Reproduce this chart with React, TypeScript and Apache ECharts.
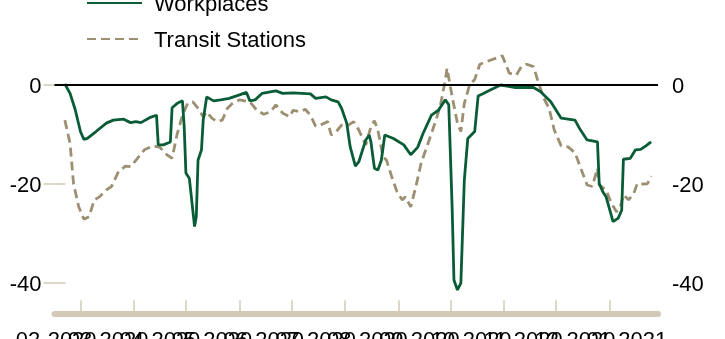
import { useEffect, useRef } from "react";
import * as echarts from "echarts";

// x values are days since 2020-02-15
const xLabels = ["02-2020", "03-2020", "04-2020", "05-2020", "06-2020", "07-2020", "08-2020", "09-2020", "10-2020", "11-2020", "12-2020", "01-2021"];
const monthStarts = ["2020-03-01", "2020-04-01", "2020-05-01", "2020-06-01", "2020-07-01", "2020-08-01", "2020-09-01", "2020-10-01", "2020-11-01", "2020-12-01", "2021-01-01"];
const yTicks = [-40, -20, 0];

const workDays = [6, 9, 12, 15, 17, 19, 24, 30, 34, 40, 44, 47, 50, 55, 59, 60, 63, 67, 68, 71, 74, 75, 76, 78, 81, 82, 83, 85, 86, 88, 90, 92, 96, 101, 107, 111, 113, 116, 120, 128, 132, 138, 148, 151, 157, 160, 164, 166, 169, 171, 174, 176, 180, 182, 183, 185, 187, 189, 191, 196, 202, 206, 210, 213, 218, 222, 226, 228, 230, 231, 233, 235, 237, 239, 243, 245, 248, 252, 258, 266, 277, 281, 287, 293, 301, 304, 308, 314, 315, 317, 319, 323, 326, 328, 329, 333, 336, 339, 342, 345];
const workValues = [0.2, -1.7, -5, -9.4, -11, -10.8, -9.4, -7.7, -7.1, -6.9, -7.6, -7.4, -7.6, -6.6, -6.1, -12.1, -12.1, -11.5, -4.6, -3.7, -3.2, -8.4, -17.8, -18.9, -28.6, -26.6, -15.2, -13.1, -7.1, -2.4, -2.8, -3.2, -3, -2.7, -2, -1.5, -3.2, -3, -1.7, -1.2, -1.7, -1.6, -1.8, -2.7, -2.4, -3, -3.4, -4.7, -7.7, -12.5, -16.4, -15.5, -11.1, -10.1, -11.5, -16.8, -17.2, -15.2, -10.1, -10.8, -12.1, -14.1, -12.6, -9.9, -6.1, -5.1, -3, -4, -25.3, -39.4, -41.4, -40, -19.2, -10.8, -9.4, -2.2, -1.7, -1, 0, -0.5, -0.5, -1.3, -3.4, -6.7, -7.1, -9, -11.1, -11.5, -19.9, -21.5, -22.6, -27.6, -26.9, -25.3, -15, -14.8, -13.1, -13, -12.3, -11.5];

const transitDays = [6, 9, 11, 14, 17, 20, 23, 26, 30, 33, 37, 41, 44, 48, 52, 57, 61, 65, 68, 71, 74, 77, 80, 83, 86, 88, 91, 94, 97, 100, 103, 107, 113, 117, 121, 125, 128, 132, 136, 138, 142, 145, 148, 151, 155, 158, 160, 163, 166, 170, 173, 176, 180, 183, 185, 187, 190, 192, 195, 198, 201, 203, 206, 209, 212, 216, 220, 223, 226, 227, 230, 233, 235, 237, 240, 243, 246, 252, 259, 263, 267, 270, 273, 277, 280, 283, 286, 289, 293, 297, 301, 304, 308, 311, 314, 315, 319, 322, 325, 327, 329, 332, 335, 337, 341, 343, 345];
const transitValues = [-7.1, -11.8, -19.9, -24.6, -27.1, -26.6, -23.2, -22.6, -21.2, -20.5, -17.5, -16.4, -16.5, -14.8, -13.1, -12.3, -12.6, -14.1, -14.8, -9.8, -6.1, -3.7, -3.4, -4.7, -6.4, -5.4, -6.7, -7.4, -7.1, -4.7, -3.7, -3, -3.4, -5.1, -5.9, -5.4, -4, -5.7, -6.4, -5.1, -5.4, -4.9, -6.1, -8.3, -7.9, -7.4, -10.1, -9.4, -8.1, -8.1, -7.4, -9.1, -12.1, -8.4, -7.2, -9.1, -14.5, -15.2, -18.5, -21.5, -23.2, -22.6, -24.6, -20.5, -15.8, -11.8, -7.7, -4.4, 1, 3.4, -2.4, -7.7, -9.4, -3.7, 0, 1.1, 4.2, 5, 5.9, 2.4, 2, 3.7, 4.2, 3.7, 0.3, -2.7, -4.7, -9.1, -12.3, -12.5, -13.7, -16.5, -20.2, -20.5, -16.8, -20.2, -21.2, -23.9, -25.6, -24.9, -22.2, -23.2, -21.9, -19.9, -20, -19.9, -18.4];

const GREEN = "#0a5c36";
const TAN = "#9c8f72";
const BAND = "#d2cab6";
const FONT = "Liberation Sans, Arial, sans-serif";

const DAY0 = Date.UTC(2020, 1, 15);
const toDay = (s: string) => {
  const [y, m, d] = s.split("-").map(Number);
  return Math.round((Date.UTC(y, m - 1, d) - DAY0) / 86400000);
};
const tickDays = monthStarts.map(toDay);
const labelDays = xLabels.map((_, i) => 1 + 30 * i);
const labelFor = (v: number) => xLabels[Math.round((v - 1) / 30)] ?? "";

export default function App() {
  const ref = useRef<HTMLDivElement>(null);
  useEffect(() => {
    if (!ref.current) return;
    const chart = echarts.init(ref.current, undefined, { renderer: "svg" });
    const yAxisBase = (position: "left" | "right") => ({
      type: "value",
      position,
      min: -46.3,
      max: 10,
      axisLine: { show: false },
      axisTick: { show: true, inside: true, length: 11, customValues: yTicks, lineStyle: { color: BAND, width: 1.5 } },
      axisLabel: {
        customValues: yTicks,
        fontSize: 22,
        fontFamily: FONT,
        color: "#000",
        margin: position === "left" ? 13 : 14,
        align: position === "left" ? "right" : "left",
        showMinLabel: true,
        showMaxLabel: true,
      },
      splitLine: { show: false },
    });
    const labelAxis = (parity: number) => ({
      type: "value",
      position: "bottom",
      min: 0,
      max: 349,
      axisLine: { show: false, onZero: false },
      axisTick: { show: false },
      axisLabel: {
        customValues: labelDays.filter((_, i) => i % 2 === parity),
        showMinLabel: true,
        showMaxLabel: true,
        fontSize: 22,
        fontFamily: FONT,
        color: "#000",
        margin: 14,
        formatter: labelFor,
      },
      splitLine: { show: false },
    });
    chart.setOption({
      animation: false,
      grid: { left: 54.5, right: 67, top: 35.5, bottom: 24.8, containLabel: false, outerBoundsMode: "none" },
      legend: {
        orient: "vertical",
        left: 86,
        top: -8,
        padding: 0,
        itemGap: 14,
        itemWidth: 55,
        itemHeight: 14,
        data: ["Workplaces", "Transit Stations"],
        itemStyle: { opacity: 0 },
        textStyle: { fontFamily: FONT, fontSize: 22, color: "#000", padding: [0, 0, 0, 7] },
      },
      xAxis: [
        {
          type: "value",
          position: "bottom",
          min: 0,
          max: 349,
          axisLine: { show: true, onZero: false, lineStyle: { color: BAND, width: 6 } },
          axisTick: { show: true, inside: true, length: 14, customValues: tickDays, lineStyle: { color: BAND, width: 1.5 } },
          axisLabel: { show: false },
          splitLine: { show: false },
        },
        labelAxis(0),
        labelAxis(1),
      ],
      yAxis: [yAxisBase("left"), yAxisBase("right")],
      series: [
        {
          name: "Transit Stations",
          type: "line",
          symbol: "none",
          showSymbol: false,
          data: transitDays.map((d, i) => [d, transitValues[i]]),
          lineStyle: { color: TAN, width: 2.8, type: [9, 5] },
          itemStyle: { color: TAN },
          z: 2,
        },
        {
          name: "Workplaces",
          type: "line",
          symbol: "none",
          showSymbol: false,
          data: workDays.map((d, i) => [d, workValues[i]]),
          lineStyle: { color: GREEN, width: 2.8 },
          itemStyle: { color: GREEN },
          z: 3,
          markLine: {
            silent: true,
            symbol: ["none", "none"],
            label: { show: false },
            lineStyle: { color: "#000", width: 2, type: "solid" },
            data: [{ yAxis: 0 }],
          },
        },
      ],
    });
    return () => chart.dispose();
  }, []);
  return <div ref={ref} style={{ position: "fixed", left: 0, top: 0, width: 725, height: 339 }} />;
}
